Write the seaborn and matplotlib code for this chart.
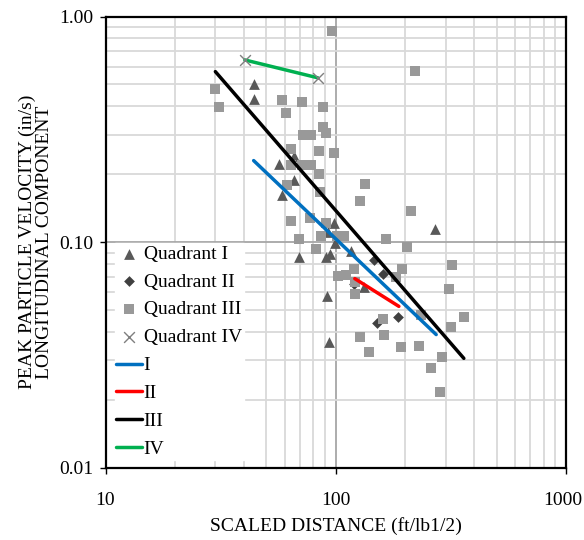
import matplotlib
matplotlib.use("Agg")
import matplotlib.pyplot as plt
import matplotlib.transforms as mtransforms
from matplotlib.ticker import LogLocator, NullFormatter, FixedLocator, FixedFormatter
import seaborn as sns
import pandas as pd

# Scatter observations by quadrant: scaled distance (ft/lb^1/2) and PPV (in/s)
q1_dist = [44.1, 44.1, 65.7, 56.6, 65.7, 58.3, 98.0, 92.3, 99.0, 69.1, 90.5,
           94.2, 116.0, 91.4, 93.2, 132.0, 269.0]
q1_ppv = [0.503, 0.431, 0.241, 0.2225, 0.189, 0.162, 0.122, 0.111, 0.0995, 0.0863,
          0.0863, 0.089, 0.091, 0.058, 0.0363, 0.0636, 0.115]

q2_dist = [146.2, 159.9, 119.7, 150.6, 185.8]
q2_ppv = [0.0837, 0.0726, 0.0655, 0.0440, 0.0468]

q3_dist = [96.1, 222.0, 29.9, 31.1, 58.3, 71.2, 60.7, 87.8, 87.8, 90.5, 71.9, 77.9,
           63.8, 84.8, 98.0, 63.8, 71.5, 77.9, 84.4, 61.3, 85.7, 133.6, 127.1, 211.6,
           63.8, 77.1, 90.9, 69.4, 86.1, 101.5, 108.9, 164.8, 204.3, 81.9, 318.6,
           120.3, 194.4, 102.0, 110.5, 182.1, 120.9, 120.9, 310.0, 359.0, 235.0,
           318.0, 160.0, 162.0, 127.0, 139.0, 193.0, 231.0, 288.0, 258.0, 283.0]
q3_ppv = [0.863, 0.571, 0.478, 0.398, 0.427, 0.418, 0.374, 0.398, 0.324, 0.305, 0.300,
          0.300, 0.259, 0.254, 0.248, 0.220, 0.220, 0.220, 0.200, 0.180, 0.1665, 0.1815,
          0.152, 0.138, 0.124, 0.128, 0.122, 0.103, 0.1065, 0.1063, 0.107, 0.103, 0.095,
          0.0933, 0.0795, 0.0763, 0.076, 0.0706, 0.0713, 0.0702, 0.0669, 0.0589, 0.0623,
          0.0466, 0.0474, 0.042, 0.0459, 0.039, 0.0381, 0.0327, 0.0342, 0.0348, 0.031,
          0.0278, 0.0218]

q4_dist = [40.3, 83.6]
q4_ppv = [0.642, 0.535]

# Fitted attenuation lines (end points)
fit_I_dist, fit_I_ppv = [44.0, 273.0], [0.23, 0.039]
fit_II_dist, fit_II_ppv = [121.0, 188.0], [0.069, 0.052]
fit_III_dist, fit_III_ppv = [30.0, 360.0], [0.57, 0.0306]
fit_IV_dist, fit_IV_ppv = [40.3, 83.6], [0.642, 0.535]

x_ticks = [10, 100, 1000]
x_tick_labels = ["10", "100", "1000"]
y_ticks = [0.01, 0.1, 1.0]
y_tick_labels = ["0.01", "0.10", "1.00"]

sns.set_theme(style="white")
plt.rcParams["font.family"] = ["Liberation Serif", "DejaVu Serif"]
plt.rcParams["text.color"] = "black"
plt.rcParams["axes.labelcolor"] = "black"
plt.rcParams["xtick.color"] = "black"
plt.rcParams["ytick.color"] = "black"

fig = plt.figure(figsize=(5.84, 5.40), dpi=100)
fig.subplots_adjust(left=105.5 / 584, right=566 / 584, top=1 - 16.5 / 540, bottom=1 - 468 / 540)
ax = fig.add_subplot(111)
ax.set_xscale("log")
ax.set_yscale("log")

fs = 14

scatter_specs = [
    (q1_dist, q1_ppv, "^", "#595959", 60, "Quadrant I"),
    (q2_dist, q2_ppv, "D", "#404040", 30, "Quadrant II"),
    (q3_dist, q3_ppv, "s", "#999999", 55, "Quadrant III"),
]
for xs, ys, mk, col, size, lab in scatter_specs:
    sns.scatterplot(x=xs, y=ys, marker=mk, color=col, s=size, linewidth=0,
                    label=lab, ax=ax, zorder=3)
sns.scatterplot(x=q4_dist, y=q4_ppv, marker="x", color="#7f7f7f", s=60, linewidth=1.0,
                label="Quadrant IV", ax=ax, zorder=5)

line_specs = [
    (fit_I_dist, fit_I_ppv, "#0070C0", "I"),
    (fit_II_dist, fit_II_ppv, "#FF0000", "II"),
    (fit_III_dist, fit_III_ppv, "#000000", "III"),
    (fit_IV_dist, fit_IV_ppv, "#00B050", "IV"),
]
for xs, ys, col, lab in line_specs:
    df = pd.DataFrame({"d": xs, "v": ys})
    sns.lineplot(data=df, x="d", y="v", color=col, linewidth=2.5, label=lab, ax=ax,
                 zorder=4, estimator=None, sort=False)

ax.set_xlim(10, 1000)
ax.set_ylim(0.01, 1.0)

# Grid: darker major lines, light minor lines
ax.xaxis.set_major_locator(FixedLocator(x_ticks))
ax.xaxis.set_major_formatter(FixedFormatter(x_tick_labels))
ax.yaxis.set_major_locator(FixedLocator(y_ticks))
ax.yaxis.set_major_formatter(FixedFormatter(y_tick_labels))
ax.xaxis.set_minor_locator(LogLocator(base=10, subs=range(2, 10)))
ax.yaxis.set_minor_locator(LogLocator(base=10, subs=range(2, 10)))
ax.xaxis.set_minor_formatter(NullFormatter())
ax.yaxis.set_minor_formatter(NullFormatter())
ax.grid(True, which="major", color="#a6a6a6", linewidth=1.3, zorder=0)
ax.grid(True, which="minor", color="#d9d9d9", linewidth=1.3, zorder=0)
ax.set_axisbelow(True)

ax.tick_params(which="major", direction="out", length=4, width=1, labelsize=fs, pad=13,
               bottom=True, left=True)
ax.tick_params(axis="y", which="major", pad=5)
ax.tick_params(which="minor", length=0)

# keep the rightmost x label inside the canvas
last_lbl = ax.get_xticklabels()[-1]
last_lbl.set_transform(last_lbl.get_transform() +
                       mtransforms.ScaledTranslation(-3 / 100, 0, fig.dpi_scale_trans))

for sp in ax.spines.values():
    sp.set_color("black")
    sp.set_linewidth(1.6)

ax.set_xlabel("SCALED DISTANCE (ft/lb1/2)", fontsize=fs, labelpad=6)
ax.set_ylabel("PEAK PARTICLE VELOCITY (in/s)\nLONGITUDINAL COMPONENT", fontsize=fs,
              labelpad=4, linespacing=1.0)

handles, labels = ax.get_legend_handles_labels()
leg = ax.legend(handles, labels, loc="lower left", bbox_to_anchor=(9 / 460.5, 8 / 451.5),
                fontsize=fs, frameon=True, fancybox=False, framealpha=1.0,
                edgecolor="white", facecolor="white", handlelength=1.3,
                handletextpad=0.1, labelspacing=0.53, borderpad=0.1, borderaxespad=0.0,
                markerscale=1.0)
leg.set_zorder(6)

fig.savefig("out.png", dpi=100)
